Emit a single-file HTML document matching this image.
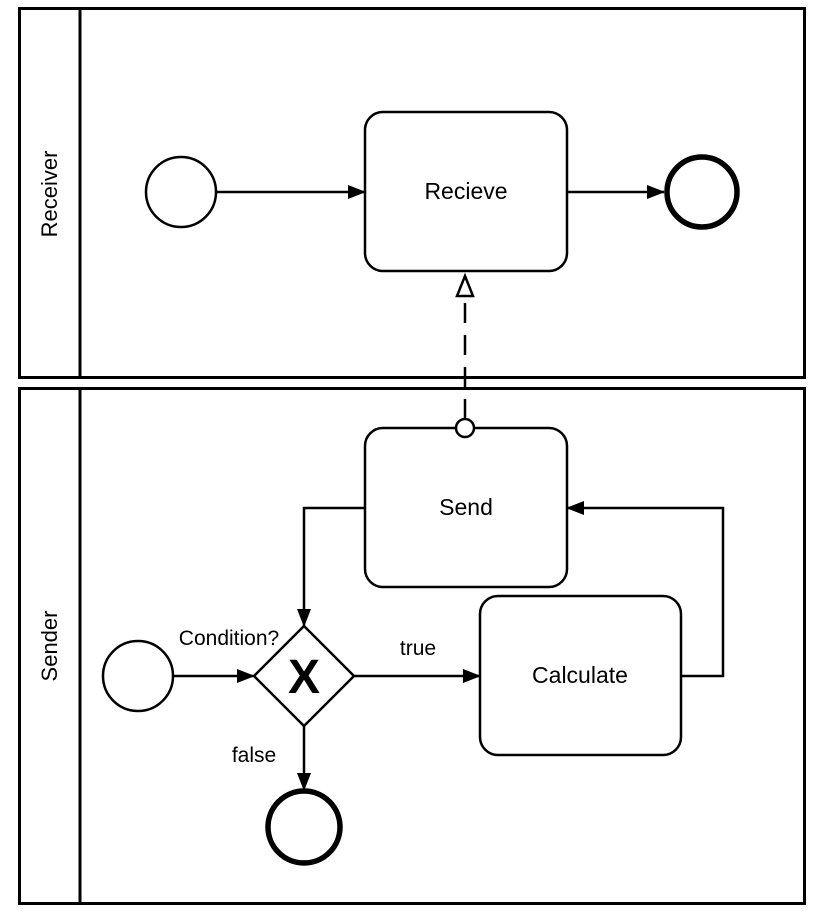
<!DOCTYPE html>
<html><head><meta charset="utf-8"><style>
html,body{margin:0;padding:0;background:#fff;}
svg text{font-family:"Liberation Sans",Arial,sans-serif;}
</style></head><body>
<svg width="828" height="916" viewBox="0 0 828 916" xmlns="http://www.w3.org/2000/svg">
<defs>
<marker id="a" markerWidth="18" markerHeight="16" refX="17" refY="8" orient="auto" markerUnits="userSpaceOnUse">
<path d="M0,1 L18,8 L0,15 z" fill="#000"/></marker>
</defs>
<g fill="none" stroke="#000" stroke-width="3">
<rect x="19.5" y="8.5" width="785" height="369"/>
<line x1="80" y1="8" x2="80" y2="377"/>
<rect x="19.5" y="388.5" width="785" height="515"/>
<line x1="80" y1="388" x2="80" y2="903"/>
</g>
<text transform="translate(57,194) rotate(-90)" font-size="22" text-anchor="middle">Receiver</text>
<text transform="translate(57,646) rotate(-90)" font-size="22" text-anchor="middle">Sender</text>

<g fill="#fff" stroke="#000" stroke-width="2.5">
<circle cx="181" cy="192" r="35"/>
<rect x="365" y="112" width="202" height="159" rx="18"/>
<rect x="365" y="428" width="202" height="159" rx="18"/>
<rect x="480" y="596" width="201" height="159" rx="18"/>
<circle cx="138" cy="676" r="35"/>
<polygon points="304,626 354,676 304,726 254,676"/>
</g>
<g fill="#fff" stroke="#000" stroke-width="5.5">
<circle cx="702" cy="192" r="35"/>
<circle cx="304" cy="827" r="36"/>
</g>

<g fill="none" stroke="#000" stroke-width="2.5">
<line x1="217" y1="192" x2="365" y2="192" marker-end="url(#a)"/>
<line x1="567" y1="192" x2="664" y2="192" marker-end="url(#a)"/>
<line x1="174" y1="676" x2="254" y2="676" marker-end="url(#a)"/>
<line x1="354" y1="676" x2="480" y2="676" marker-end="url(#a)"/>
<line x1="304" y1="726" x2="304" y2="790" marker-end="url(#a)"/>
<polyline points="681,676 723,676 723,508 567,508" marker-end="url(#a)"/>
<polyline points="365,508 304,508 304,626" marker-end="url(#a)"/>
<line x1="465" y1="419" x2="465" y2="296" stroke-dasharray="20,12"/>
</g>
<polygon points="465,276 457,296 473,296" fill="#fff" stroke="#000" stroke-width="2.5"/>
<circle cx="465" cy="428" r="9" fill="#fff" stroke="#000" stroke-width="2.5"/>

<text x="304" y="693" font-size="48" font-weight="bold" text-anchor="middle">X</text>
<g font-size="23" text-anchor="middle">
<text x="466" y="199">Recieve</text>
<text x="466" y="515">Send</text>
<text x="580" y="683">Calculate</text>
</g>
<g font-size="21" text-anchor="middle">
<text x="229" y="645">Condition?</text>
<text x="418" y="655">true</text>
<text x="254" y="762">false</text>
</g>
</svg>
</body></html>
